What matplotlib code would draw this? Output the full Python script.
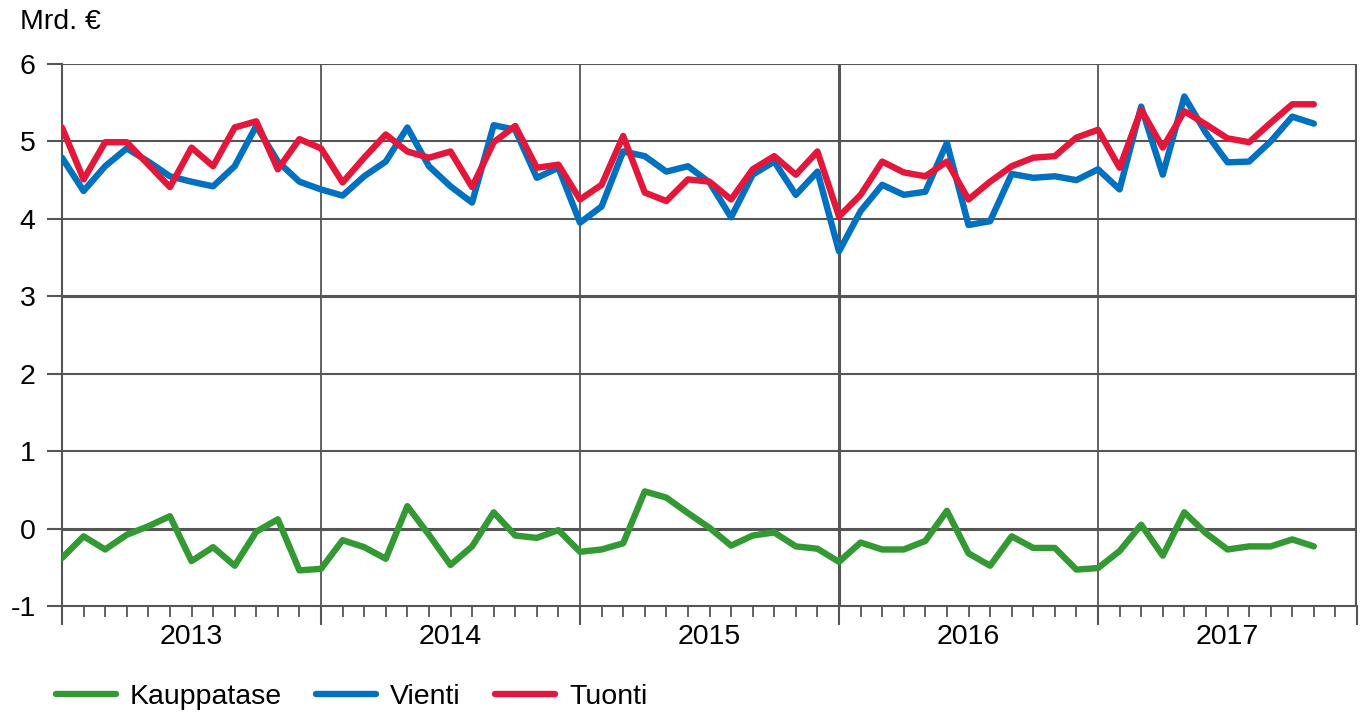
import matplotlib
matplotlib.use("Agg")
import matplotlib.pyplot as plt
import numpy as np

plt.rcParams['font.family'] = ['Liberation Sans', 'DejaVu Sans']

# kuukausittaiset arvot, tammikuu 2013 - marraskuu 2017 (mrd. euroa)
vienti = [4.79, 4.36, 4.68, 4.91, 4.74, 4.55, 4.48, 4.42, 4.68, 5.20, 4.74, 4.48,
          4.38, 4.30, 4.55, 4.74, 5.18, 4.68, 4.42, 4.21, 5.21, 5.15, 4.53, 4.66,
          3.95, 4.16, 4.87, 4.81, 4.61, 4.68, 4.47, 4.02, 4.57, 4.74, 4.31, 4.61,
          3.58, 4.10, 4.44, 4.31, 4.35, 4.98, 3.92, 3.97, 4.58, 4.53, 4.55, 4.50,
          4.64, 4.38, 5.45, 4.57, 5.58, 5.11, 4.73, 4.74, 5.00, 5.32, 5.23]
tuonti = [5.18, 4.51, 4.99, 4.99, 4.70, 4.41, 4.92, 4.68, 5.18, 5.26, 4.64, 5.03,
          4.91, 4.47, 4.79, 5.09, 4.87, 4.79, 4.87, 4.41, 4.99, 5.20, 4.66, 4.70,
          4.25, 4.44, 5.07, 4.34, 4.23, 4.51, 4.48, 4.25, 4.64, 4.81, 4.57, 4.87,
          4.03, 4.31, 4.74, 4.60, 4.55, 4.74, 4.25, 4.48, 4.68, 4.79, 4.81, 5.05,
          5.15, 4.66, 5.41, 4.92, 5.39, 5.22, 5.04, 4.99, 5.24, 5.48, 5.48]
kauppatase = [-0.38, -0.10, -0.27, -0.08, 0.03, 0.16, -0.42, -0.24, -0.48, -0.04, 0.12, -0.54,
              -0.52, -0.15, -0.24, -0.39, 0.29, -0.08, -0.47, -0.23, 0.21, -0.09, -0.12, -0.02,
              -0.30, -0.27, -0.19, 0.48, 0.40, 0.20, 0.01, -0.22, -0.09, -0.05, -0.23, -0.26,
              -0.43, -0.18, -0.27, -0.27, -0.16, 0.23, -0.32, -0.48, -0.10, -0.25, -0.25, -0.53,
              -0.51, -0.29, 0.05, -0.35, 0.21, -0.06, -0.27, -0.23, -0.23, -0.14, -0.23]
vuodet = ['2013', '2014', '2015', '2016', '2017']

W, H = 1367, 713
fs = 20.5
fig = plt.figure(figsize=(W / 100, H / 100), dpi=100)
ax = fig.add_axes([62 / W, (H - 606) / H, (1357 - 62) / W, (606 - 64) / H])

grey = '#555555'
kk = np.arange(len(vienti))

# ruudukko
for v in range(0, 7):
    ax.axhline(v, color=grey, lw=2.2 if v in (0, 3) else 1.5, zorder=1)
for k in range(1, len(vuodet)):
    ax.axvline(k * 12, color=grey, lw=2.2 if k == 3 else 1.3, zorder=1)

ax.plot(kk, kauppatase, color='#339933', lw=4.6, solid_capstyle='round', zorder=3, label='Kauppatase')
ax.plot(kk, vienti, color='#0070C0', lw=4.6, solid_capstyle='round', zorder=3, label='Vienti')
ax.plot(kk, tuonti, color='#E4173A', lw=4.6, solid_capstyle='round', zorder=4, label='Tuonti')

ax.set_xlim(0, 60)
ax.set_ylim(-1, 6)

for s in ['top', 'right']:
    ax.spines[s].set_visible(False)
ax.spines['left'].set_color(grey)
ax.spines['left'].set_linewidth(1.5)
ax.spines['bottom'].set_color(grey)
ax.spines['bottom'].set_linewidth(1.5)
ax.axvline(60, color=grey, lw=3, zorder=1)

ax.set_yticks(range(-1, 7))
ax.set_yticklabels([str(v) for v in range(-1, 7)])
ax.tick_params(axis='y', length=11, width=1.5, color=grey, pad=8, labelsize=fs)

ax.set_xticks(range(0, 61, 12))
ax.set_xticklabels([])
ax.set_xticks(range(0, 60), minor=True)
ax.tick_params(axis='x', which='major', length=14, width=1.5, color=grey)
ax.tick_params(axis='x', which='minor', length=8, width=1.3, color=grey)

for i, y in enumerate(vuodet):
    ax.text(6 + 12 * i, -0.057, y, transform=ax.get_xaxis_transform(),
            ha='center', va='center', fontsize=fs)

fig.text(20 / W, 1 - 22 / H, 'Mrd. €', ha='left', va='center', fontsize=fs)

ax.legend(loc='center left', bbox_to_anchor=(56 / W, 1 - 697 / H),
          bbox_transform=fig.transFigure, ncol=3, frameon=False,
          fontsize=fs, handlelength=2.1, handletextpad=0.5, columnspacing=1.2,
          borderaxespad=0, borderpad=0)

fig.savefig('out.png', dpi=100)
